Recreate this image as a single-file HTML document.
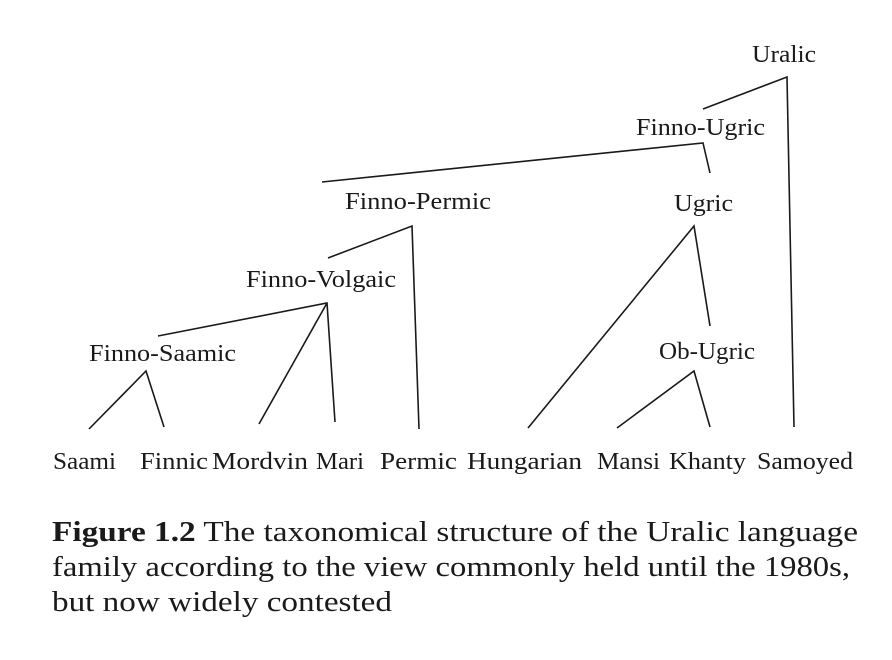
<!DOCTYPE html>
<html><head><meta charset="utf-8"><style>
html,body{margin:0;padding:0;background:#fff;}
svg{display:block;}
text{font-family:"Liberation Serif",serif;fill:#1a1a1a;}
</style></head><body>
<svg width="892" height="660" viewBox="0 0 892 660">
<g stroke="#1a1a1a" stroke-width="1.6" fill="none">
<polyline points="703,109 787,77 794,427"/>
<polyline points="322,182 703,143 710,173"/>
<polyline points="328,258 412,226 419,429"/>
<polyline points="528,428 694,226 710,326"/>
<polyline points="158,336 327,303 335,422"/>
<line x1="259" y1="424" x2="327" y2="303"/>
<polyline points="89,429 146,371 164,427"/>
<polyline points="617,428 694,371 710,427"/>
</g>
<g font-size="24">
<text x="752" y="62" textLength="64" lengthAdjust="spacingAndGlyphs">Uralic</text>
<text x="636" y="135" textLength="129" lengthAdjust="spacingAndGlyphs">Finno-Ugric</text>
<text x="345" y="209" textLength="146" lengthAdjust="spacingAndGlyphs">Finno-Permic</text>
<text x="674" y="211" textLength="59" lengthAdjust="spacingAndGlyphs">Ugric</text>
<text x="246" y="287" textLength="150" lengthAdjust="spacingAndGlyphs">Finno-Volgaic</text>
<text x="89" y="361" textLength="147" lengthAdjust="spacingAndGlyphs">Finno-Saamic</text>
<text x="659" y="359" textLength="96" lengthAdjust="spacingAndGlyphs">Ob-Ugric</text>
</g>
<g font-size="24">
<text x="53" y="469" textLength="63" lengthAdjust="spacingAndGlyphs">Saami</text>
<text x="140" y="469" textLength="68" lengthAdjust="spacingAndGlyphs">Finnic</text>
<text x="212" y="469" textLength="96" lengthAdjust="spacingAndGlyphs">Mordvin</text>
<text x="316" y="469" textLength="48" lengthAdjust="spacingAndGlyphs">Mari</text>
<text x="380" y="469" textLength="77" lengthAdjust="spacingAndGlyphs">Permic</text>
<text x="467" y="469" textLength="115" lengthAdjust="spacingAndGlyphs">Hungarian</text>
<text x="597" y="469" textLength="63" lengthAdjust="spacingAndGlyphs">Mansi</text>
<text x="669" y="469" textLength="77" lengthAdjust="spacingAndGlyphs">Khanty</text>
<text x="757" y="469" textLength="96" lengthAdjust="spacingAndGlyphs">Samoyed</text>
</g>
<g font-size="29">
<text x="52" y="541" textLength="806" lengthAdjust="spacingAndGlyphs"><tspan font-weight="bold">Figure 1.2</tspan>  The taxonomical structure of the Uralic language</text>
<text x="52" y="576" textLength="798" lengthAdjust="spacingAndGlyphs">family according to the view commonly held until the 1980s,</text>
<text x="52" y="611" textLength="340" lengthAdjust="spacingAndGlyphs">but now widely contested</text>
</g>
</svg>
</body></html>
